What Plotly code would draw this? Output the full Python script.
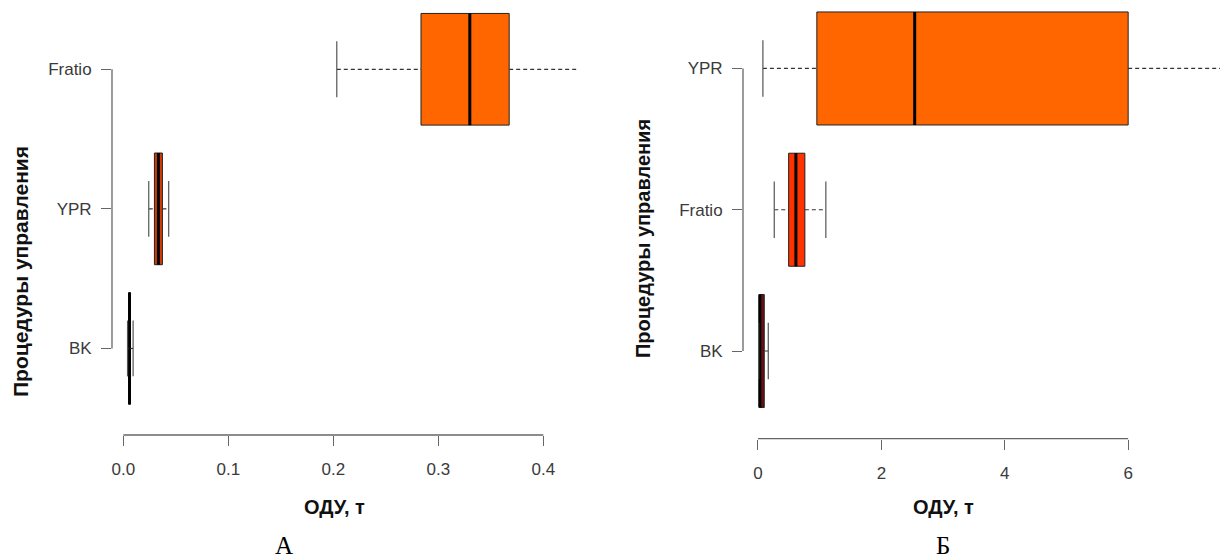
import plotly.graph_objects as go

# page body has an 8px margin: the figure is sized so it fits the 1228x560 window
OFF = 8
FW, FH = 1228 - OFF, 560 - OFF

# ---------------- data: panel A ----------------
cats_a = ["BK", "YPR", "Fratio"]
a_low = [0.0040, 0.0242, 0.2033]
a_q1 = [0.0051, 0.0296, 0.2835]
a_med = [0.0059, 0.0334, 0.3300]
a_q3 = [0.0067, 0.0372, 0.3675]
a_high = [0.0093, 0.0432, 0.4600]
a_fill = ["#3a0a0a", "#d83800", "#ff6600"]
a_ticks = [0.0, 0.1, 0.2, 0.3, 0.4]
a_ticktext = ["0.0", "0.1", "0.2", "0.3", "0.4"]

# ---------------- data: panel Б ----------------
cats_b = ["BK", "Fratio", "YPR"]
b_low = [0.010, 0.264, 0.080]
b_q1 = [0.021, 0.497, 0.954]
b_med = [0.030, 0.615, 2.540]
b_q3 = [0.102, 0.760, 6.000]
b_high = [0.167, 1.100, 9.000]
b_fill = ["#6a0f0f", "#ff3300", "#ff6600"]
b_ticks = [0, 2, 4, 6]
b_ticktext = ["0", "2", "4", "6"]

x_title = "ОДУ, т"
y_title = "Процедуры управления"
panel_labels = ["А", "Б"]

# axis ranges (R style padding)
a_xrange = [-0.0108, 0.4321]
a_yrange = [0.38, 3.439]
b_xrange = [-0.2426, 7.618]
b_yrange = [0.38, 3.428]

BOX_W = 0.8
CAP_W = 0.4


def px(x):
    return (x - OFF) / FW


def py(y):
    return (FH - (y - OFF)) / FH


fig = go.Figure()


def add_panel(cats, low, q1, med, q3, high, fills, xa, ya):
    pos = list(range(1, len(cats) + 1))
    for i, p in enumerate(pos):
        fig.add_trace(go.Box(
            y=[p], q1=[q1[i]], median=[med[i]], q3=[q3[i]],
            lowerfence=[q1[i]], upperfence=[q3[i]],
            orientation="h", width=BOX_W, whiskerwidth=0,
            fillcolor=fills[i], line=dict(color="#222222", width=1),
            boxpoints=False, hoverinfo="skip", showlegend=False,
            xaxis=xa, yaxis=ya))
        # thick median
        fig.add_trace(go.Scatter(
            x=[med[i], med[i]], y=[p - BOX_W / 2, p + BOX_W / 2],
            mode="lines", line=dict(color="#000000", width=3),
            hoverinfo="skip", showlegend=False, xaxis=xa, yaxis=ya))
        # dashed whiskers
        for a, b in ((low[i], q1[i]), (q3[i], high[i])):
            fig.add_trace(go.Scatter(
                x=[a, b], y=[p, p], mode="lines",
                line=dict(color="#333333", width=1.2, dash="4px,3px"),
                hoverinfo="skip", showlegend=False, xaxis=xa, yaxis=ya))
        # caps
        for v in (low[i], high[i]):
            fig.add_trace(go.Scatter(
                x=[v, v], y=[p - CAP_W / 2, p + CAP_W / 2], mode="lines",
                line=dict(color="#555555", width=1.2),
                hoverinfo="skip", showlegend=False, xaxis=xa, yaxis=ya))


add_panel(cats_a, a_low, a_q1, a_med, a_q3, a_high, a_fill, "x", "y")
add_panel(cats_b, b_low, b_q1, b_med, b_q3, b_high, b_fill, "x2", "y2")

tick_font = dict(family="Liberation Sans, Arial, sans-serif", size=17, color="#3a3a3a")
axis_col = "#666666"

common_x = dict(showgrid=False, zeroline=False, showline=False, ticks="outside",
                ticklen=10, tickwidth=1.2, tickcolor=axis_col, tickfont=tick_font,
                ticklabelstandoff=9, fixedrange=True)
common_y = dict(showgrid=False, zeroline=False, showline=False, ticks="outside",
                ticklen=10, tickwidth=1.2, tickcolor=axis_col, tickfont=tick_font,
                ticklabelstandoff=6, fixedrange=True)

fig.update_layout(
    width=FW, height=FH,
    margin=dict(l=0, r=0, t=0, b=0),
    paper_bgcolor="white", plot_bgcolor="white",
    showlegend=False,
    xaxis=dict(domain=[px(112), px(577)], range=a_xrange, anchor="y",
               tickvals=a_ticks, ticktext=a_ticktext, **common_x),
    yaxis=dict(domain=[py(435), 1], range=a_yrange, anchor="x",
               tickvals=[1, 2, 3], ticktext=cats_a, **common_y),
    xaxis2=dict(domain=[px(743), 1.0], range=b_xrange, anchor="y2",
                tickvals=b_ticks, ticktext=b_ticktext, **common_x),
    yaxis2=dict(domain=[py(438.6), 1], range=b_yrange, anchor="x2",
                tickvals=[1, 2, 3], ticktext=cats_b, **common_y),
)


def frac(v, rng):
    return (v - rng[0]) / (rng[1] - rng[0])


# R-style axis lines spanning first..last tick only
shapes = []
for xr, yr, ticks, xref, yref in ((a_xrange, a_yrange, a_ticks, "x domain", "y domain"),
                                  (b_xrange, b_yrange, b_ticks, "x2 domain", "y2 domain")):
    shapes.append(dict(type="line", xref=xref, yref=yref,
                       x0=frac(ticks[0], xr), x1=frac(ticks[-1], xr), y0=0, y1=0,
                       line=dict(color=axis_col, width=1.3)))
    shapes.append(dict(type="line", xref=xref, yref=yref,
                       x0=0, x1=0, y0=frac(1, yr), y1=frac(3, yr),
                       line=dict(color=axis_col, width=1.3)))
fig.update_layout(shapes=shapes)

label_font = dict(family="Liberation Serif, Times New Roman, serif", size=25, color="#000000")


def tfont(size):
    return dict(family="Liberation Sans, Arial, sans-serif", size=size, color="#111111")


ann = []
for cx, lx, ycx, ycy, ysize, lab in ((334, 284, 20.5, 271.5, 21, panel_labels[0]),
                                     (943, 943, 643, 239, 20, panel_labels[1])):
    ann.append(dict(text="<b>" + x_title + "</b>", x=px(cx), y=py(507),
                    xref="paper", yref="paper", showarrow=False, font=tfont(20),
                    xanchor="center", yanchor="middle"))
    ann.append(dict(text="<b>" + y_title + "</b>", x=px(ycx), y=py(ycy),
                    xref="paper", yref="paper", showarrow=False, font=tfont(ysize),
                    textangle=-90, xanchor="center", yanchor="middle", borderpad=0))
    ann.append(dict(text=lab, x=px(lx), y=py(545), xref="paper", yref="paper",
                    showarrow=False, font=label_font,
                    xanchor="center", yanchor="middle"))
fig.update_layout(annotations=ann)

fig.write_html("out.html")
